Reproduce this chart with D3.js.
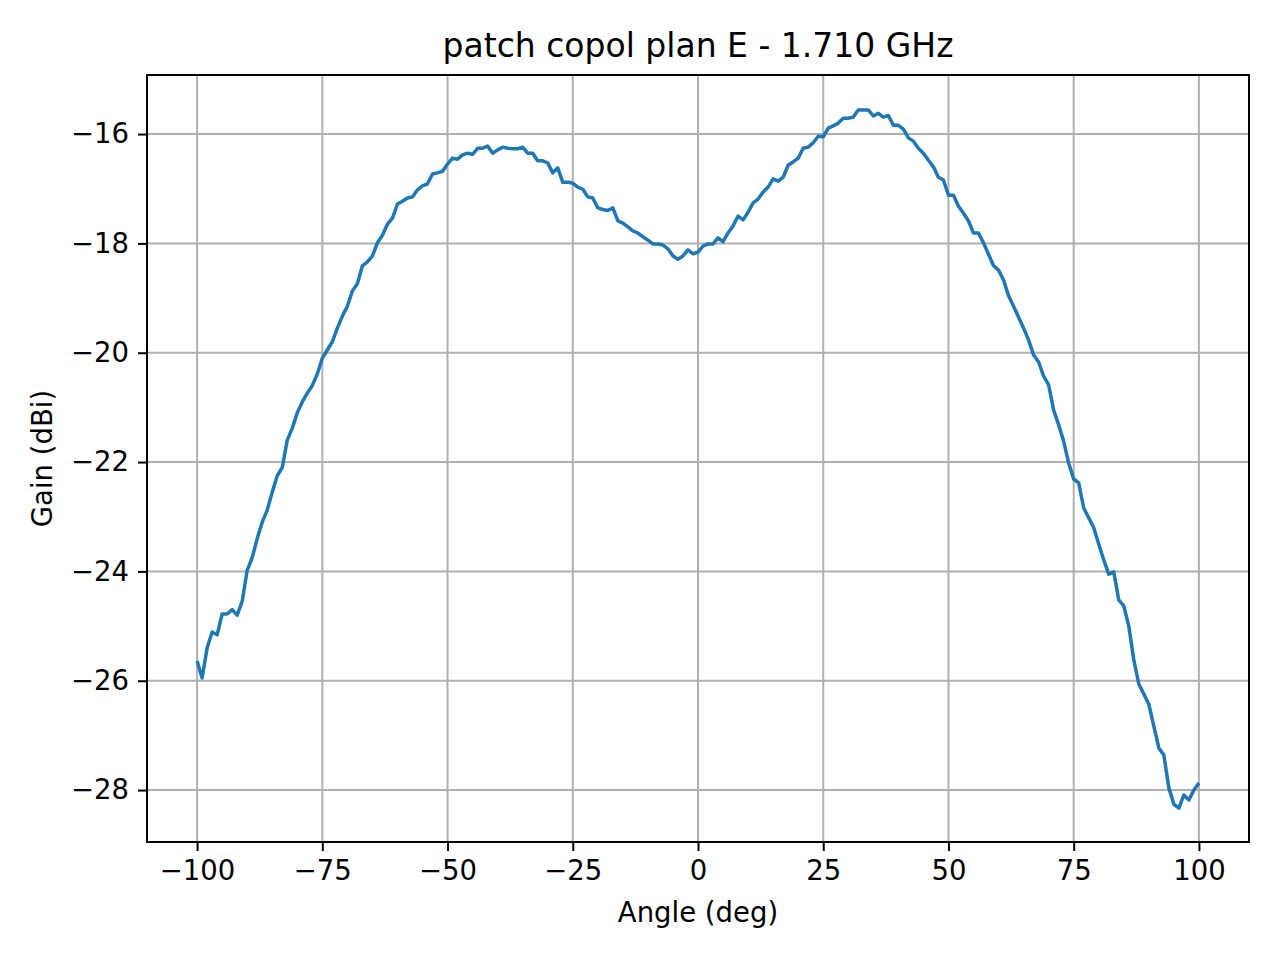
<!DOCTYPE html>
<html>
<head>
<meta charset="utf-8">
<script src="https://cdn.jsdelivr.net/npm/d3@7"></script>
<style>
  body { margin: 0; background: #fff; }
  text { font-family: "DejaVu Sans", sans-serif; fill: #000; }
</style>
</head>
<body>
<div id="chart"></div>
<script>
const margin = { top: 75, right: 31, bottom: 118, left: 147 };
const width = 1280 - margin.left - margin.right;
const height = 960 - margin.top - margin.bottom;

// angle from -100 to 100 deg, 1 deg step
const angleStart = -100;
const gain = [
  -25.64, -25.95, -25.4, -25.11, -25.16, -24.78, -24.78, -24.7, -24.8, -24.55,
  -23.98, -23.75, -23.4, -23.1, -22.88, -22.55, -22.25, -22.1, -21.6, -21.38,
  -21.1, -20.9, -20.74, -20.6, -20.39, -20.1, -19.95, -19.8, -19.55, -19.33,
  -19.15, -18.87, -18.74, -18.41, -18.34, -18.23, -17.99, -17.85, -17.65, -17.54,
  -17.28, -17.23, -17.17, -17.15, -17.02, -16.95, -16.91, -16.73, -16.71, -16.68,
  -16.55, -16.44, -16.46, -16.38, -16.35, -16.37, -16.26, -16.26, -16.22, -16.35,
  -16.29, -16.24, -16.26, -16.27, -16.27, -16.24, -16.35, -16.35, -16.49, -16.49,
  -16.53, -16.71, -16.62, -16.88, -16.88, -16.9, -16.97, -17.01, -17.15, -17.17,
  -17.35, -17.38, -17.4, -17.35, -17.59, -17.63, -17.7, -17.77, -17.81, -17.88,
  -17.94, -18.01, -18.01, -18.03, -18.1, -18.23, -18.29, -18.23, -18.12, -18.19,
  -18.16, -18.05, -18.01, -18.01, -17.9, -17.97, -17.81, -17.68, -17.5, -17.57,
  -17.43, -17.26, -17.19, -17.06, -16.97, -16.82, -16.86, -16.79, -16.57, -16.51,
  -16.44, -16.26, -16.24, -16.16, -16.04, -16.05, -15.89, -15.85, -15.8, -15.71,
  -15.71, -15.69, -15.56, -15.56, -15.56, -15.67, -15.62, -15.69, -15.66, -15.84,
  -15.84, -15.91, -16.07, -16.13, -16.26, -16.35, -16.48, -16.6, -16.79, -16.84,
  -17.12, -17.12, -17.32, -17.45, -17.59, -17.81, -17.81, -17.99, -18.2, -18.41,
  -18.49, -18.67, -18.96, -19.15, -19.35, -19.55, -19.77, -20.04, -20.17, -20.43,
  -20.59, -21.05, -21.32, -21.62, -22.02, -22.31, -22.38, -22.84, -23.02, -23.2,
  -23.5, -23.79, -24.05, -24.01, -24.52, -24.63, -25.0, -25.62, -26.06, -26.24,
  -26.43, -26.83, -27.23, -27.36, -27.96, -28.26, -28.33, -28.09, -28.18, -28.0,
  -27.87
];
const xTicks = [-100, -75, -50, -25, 0, 25, 50, 75, 100];
const yTicks = [-28, -26, -24, -22, -20, -18, -16];

const data = gain.map((g, i) => ({ angle: angleStart + i, gain: g }));

const x = d3.scaleLinear().domain([-110, 110]).range([0, width]);
const y = d3.scaleLinear().domain([-28.95, -14.92]).range([height, 0]);

const svg = d3.select("#chart").append("svg")
    .attr("width", 1280)
    .attr("height", 960);

const g = svg.append("g")
    .attr("transform", "translate(" + margin.left + "," + margin.top + ")");

// grid
g.append("g").selectAll("line").data(xTicks).join("line")
    .attr("x1", d => x(d)).attr("x2", d => x(d))
    .attr("y1", 0).attr("y2", height)
    .attr("stroke", "#b0b0b0").attr("stroke-width", 2);
g.append("g").selectAll("line").data(yTicks).join("line")
    .attr("x1", 0).attr("x2", width)
    .attr("y1", d => y(d)).attr("y2", d => y(d))
    .attr("stroke", "#b0b0b0").attr("stroke-width", 2);

// axes
const fmt = d => d < 0 ? "\u2212" + Math.abs(d) : String(d);
const xAxis = g.append("g")
    .attr("transform", "translate(0," + height + ")")
    .call(d3.axisBottom(x).tickValues(xTicks).tickFormat(fmt).tickSizeOuter(0).tickSize(9).tickPadding(9));
const yAxis = g.append("g")
    .call(d3.axisLeft(y).tickValues(yTicks).tickFormat(fmt).tickSizeOuter(0).tickSize(9).tickPadding(9));
[xAxis, yAxis].forEach(a => {
  a.select(".domain").remove();
  a.selectAll("line").attr("stroke-width", 2);
  a.selectAll("text").style("font-size", "27.5px").style("font-family", "DejaVu Sans");
});

// line
g.append("path")
    .datum(data)
    .attr("fill", "none")
    .attr("stroke", "#1f77b4")
    .attr("stroke-width", 3.5)
    .attr("stroke-linejoin", "round")
    .attr("d", d3.line().x(d => x(d.angle)).y(d => y(d.gain)));

// frame
g.append("rect")
    .attr("width", width).attr("height", height)
    .attr("fill", "none").attr("stroke", "#000").attr("stroke-width", 2);

// labels
svg.append("text")
    .attr("x", margin.left + width / 2).attr("y", 57)
    .attr("text-anchor", "middle").style("font-size", "33px")
    .text("patch copol plan E - 1.710 GHz");
svg.append("text")
    .attr("x", margin.left + width / 2).attr("y", 922)
    .attr("text-anchor", "middle").style("font-size", "27.5px")
    .text("Angle (deg)");
svg.append("text")
    .attr("transform", "translate(52," + (margin.top + height / 2) + ") rotate(-90)")
    .attr("text-anchor", "middle").style("font-size", "27.5px")
    .text("Gain (dBi)");
</script>
</body>
</html>
